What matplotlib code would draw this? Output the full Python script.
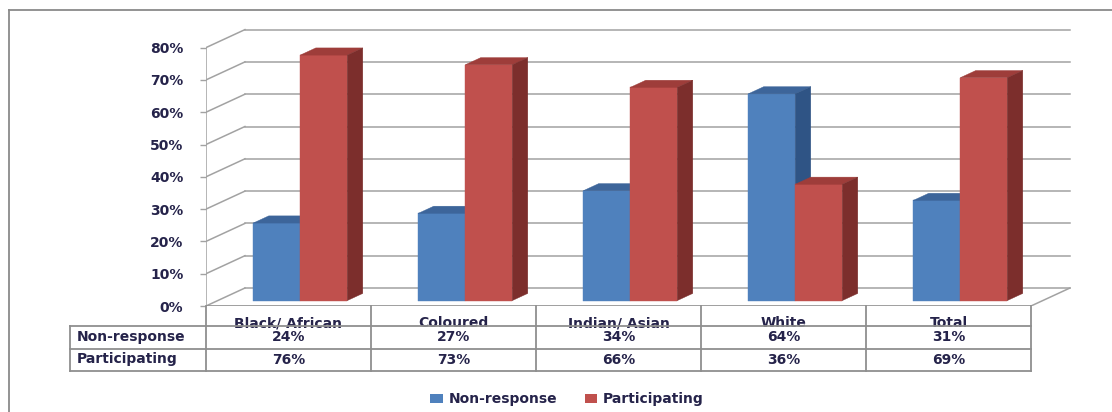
import matplotlib.pyplot as plt
from matplotlib.patches import Polygon, Patch
from matplotlib.lines import Line2D

# chart data
categories = ['Black/ African', 'Coloured', 'Indian/ Asian', 'White', 'Total']
non_response = [24, 27, 34, 64, 31]
participating = [76, 73, 66, 36, 69]
series_names = ['Non-response', 'Participating']
y_ticks = [0, 10, 20, 30, 40, 50, 60, 70, 80]

# colours: front, top, side
blue = ('#4F81BD', '#3D659A', '#2F5485')
red = ('#C0504D', '#9E3D3A', '#7C2E2C')
grid_col = '#a2a2a2'
line_col = '#8f8f8f'
text_col = '#25234a'

W, H = 1112, 412
fig = plt.figure(figsize=(W / 100, H / 100), dpi=100)


def fx(px):
    return px / W


def fy(py):
    return 1 - py / H


# depth of the pseudo 3D box (in data units)
DX = 0.236
DY = 5.57
PX_PER_CAT = 165
PX_PER_PCT = 3.23
XMAX, YMAX = 5.3, 86

ax = fig.add_axes([fx(206), fy(306), PX_PER_CAT * XMAX / W, PX_PER_PCT * YMAX / H])
ax.set_xlim(0, XMAX)
ax.set_ylim(0, YMAX)
for sp in ax.spines.values():
    sp.set_visible(False)
ax.set_xticks([])
ax.set_yticks(y_ticks)
ax.set_yticklabels([f'{t}%' for t in y_ticks])
ax.tick_params(axis='y', direction='out', length=4.3, width=1, color=grid_col,
               pad=12, labelsize=10, labelcolor=text_col)
for lab in ax.get_yticklabels():
    lab.set_fontweight('bold')
ax.patch.set_alpha(0)

n = len(categories)
# back wall gridlines and left wall diagonals
for t in y_ticks:
    ax.plot([DX, n + DX], [t + DY, t + DY], color=grid_col, lw=1.1, zorder=1)
    ax.plot([0, DX], [t, t + DY], color=grid_col, lw=1.1, zorder=1)
# front vertical axis
ax.plot([0, 0], [0, y_ticks[-1]], color=grid_col, lw=1.1, zorder=1)
# floor edges
ax.plot([0, n], [0, 0], color=line_col, lw=1.2, zorder=1)
ax.plot([n, n + DX], [0, DY], color=grid_col, lw=1.1, zorder=1)

# bars
bar_w = 0.285
d0, d1 = 0.3, 0.7


def draw_bar(x0, h, cols):
    x1 = x0 + bar_w
    ox0, oy0 = d0 * DX, d0 * DY
    ox1, oy1 = d1 * DX, d1 * DY
    front = [(x0 + ox0, oy0), (x1 + ox0, oy0), (x1 + ox0, h + oy0), (x0 + ox0, h + oy0)]
    top = [(x0 + ox0, h + oy0), (x1 + ox0, h + oy0), (x1 + ox1, h + oy1), (x0 + ox1, h + oy1)]
    side = [(x1 + ox0, oy0), (x1 + ox1, oy1), (x1 + ox1, h + oy1), (x1 + ox0, h + oy0)]
    for pts, c in zip([front, top, side], cols):
        ax.add_patch(Polygon(pts, closed=True, facecolor=c, edgecolor=c, lw=0.3, zorder=3))


for i in range(n):
    draw_bar(i + 0.5 - bar_w, non_response[i], blue)
    draw_bar(i + 0.5, participating[i], red)

# data table
tax = fig.add_axes([fx(70), fy(371), (1031 - 70) / W, 65 / H])
lab_w = 136 / PX_PER_CAT
tax.set_xlim(-lab_w, n)
tax.set_ylim(3, 0)
tax.axis('off')
lkw = dict(color=line_col, lw=1.3, solid_capstyle='projecting', clip_on=False)
for r in [0.93, 2, 3]:
    tax.plot([-lab_w, n], [r, r], zorder=3, **lkw)
for c in range(n + 1):
    tax.plot([c, c], [0, 3], **lkw)
tax.plot([-lab_w, -lab_w], [0.93, 3], **lkw)

tkw = dict(color=text_col, fontsize=10, fontweight='bold')
for i, cat in enumerate(categories):
    tax.text(i + 0.5, 0.97, cat, ha='center', va='baseline', zorder=2, **tkw)
    tax.text(i + 0.5, 1.45, f'{non_response[i]}%', ha='center', va='center', **tkw)
    tax.text(i + 0.5, 2.5, f'{participating[i]}%', ha='center', va='center', **tkw)
tax.text(-lab_w + 0.04, 1.45, series_names[0], ha='left', va='center', **tkw)
tax.text(-lab_w + 0.04, 2.45, series_names[1], ha='left', va='center', **tkw)

# legend
handles = [Patch(facecolor=blue[0], label=series_names[0]),
           Patch(facecolor=red[0], label=series_names[1])]
leg = fig.legend(handles=handles, loc='center', bbox_to_anchor=(fx(567), fy(399)),
                 ncol=2, frameon=False, handlelength=0.9, handleheight=0.6,
                 handletextpad=0.4, columnspacing=2.0,
                 prop={'size': 10, 'weight': 'bold'})
for t in leg.get_texts():
    t.set_color(text_col)

# outer chart border (top and left edges)
fig.add_artist(Line2D([fx(9), 1], [fy(10), fy(10)], color='#8a8a8a', lw=1.3))
fig.add_artist(Line2D([fx(9), fx(9)], [fy(10), 0], color='#8a8a8a', lw=1.3))

fig.savefig('out.png', dpi=100)
plt.close(fig)
